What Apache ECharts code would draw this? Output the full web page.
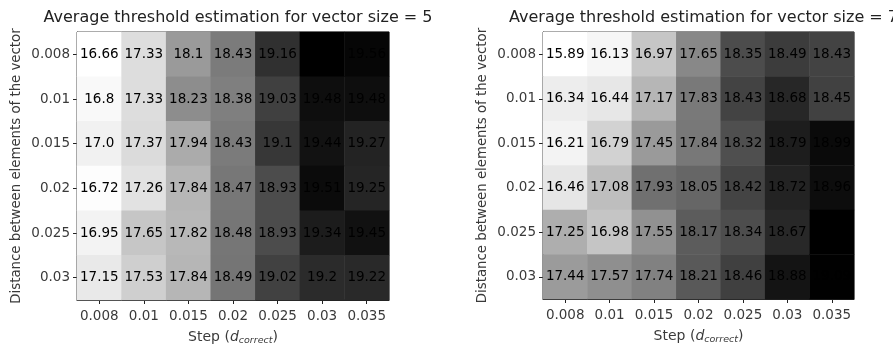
<!DOCTYPE html>
<html>
<head>
<meta charset="utf-8">
<script src="https://cdn.jsdelivr.net/npm/echarts@6/dist/echarts.min.js"></script>
<style>
html,body{margin:0;padding:0;background:#fff;}
#chart{width:893px;height:347px;}
</style>
</head>
<body>
<div id="chart"></div>
<script>
const steps = ['0.008', '0.01', '0.015', '0.02', '0.025', '0.03', '0.035'];
const distances = ['0.008', '0.01', '0.015', '0.02', '0.025', '0.03'];

// rows = distances, columns = steps
const size5 = [
  [16.66, 17.33, 18.1, 18.43, 19.16, 19.62, 19.56],
  [16.8, 17.33, 18.23, 18.38, 19.03, 19.48, 19.48],
  [17.0, 17.37, 17.94, 18.43, 19.1, 19.44, 19.27],
  [16.72, 17.26, 17.84, 18.47, 18.93, 19.51, 19.25],
  [16.95, 17.65, 17.82, 18.48, 18.93, 19.34, 19.45],
  [17.15, 17.53, 17.84, 18.49, 19.02, 19.2, 19.22]
];
const size7 = [
  [15.89, 16.13, 16.97, 17.65, 18.35, 18.49, 18.43],
  [16.34, 16.44, 17.17, 17.83, 18.43, 18.68, 18.45],
  [16.21, 16.79, 17.45, 17.84, 18.32, 18.79, 18.99],
  [16.46, 17.08, 17.93, 18.05, 18.42, 18.72, 18.96],
  [17.25, 16.98, 17.55, 18.17, 18.34, 18.67, 19.1],
  [17.44, 17.57, 17.74, 18.21, 18.46, 18.88, 19.09]
];

const titles = ['Average threshold estimation for vector size = 5',
                'Average threshold estimation for vector size = 7'];
const yName = 'Distance between elements of the vector';

const greys = ['#ffffff','#f0f0f0','#d9d9d9','#bdbdbd','#969696','#737373','#525252','#252525','#000000'];

function toCells(mat) {
  const out = [];
  mat.forEach((row, r) => row.forEach((v, c) => out.push([c, r, v])));
  return out;
}
function flatMin(m) { return Math.min(...m.flat()); }
function flatMax(m) { return Math.max(...m.flat()); }
function fmt(v) { return Number.isInteger(v) ? v.toFixed(1) : String(v); }

const FONT = 'DejaVu Sans';
const grids = [
  {left: 77, top: 32, width: 312, height: 268},
  {left: 543, top: 32, width: 311, height: 267}
];
const mats = [size5, size7];

const option = {
  animation: false,
  backgroundColor: '#ffffff',
  textStyle: {fontFamily: FONT},
  title: grids.map((g, i) => ({
    text: titles[i],
    left: g.left + g.width / 2,
    top: 5,
    textAlign: 'center',
    textStyle: {fontFamily: FONT, fontSize: 16, fontWeight: 'normal', color: '#222'}
  })),
  grid: grids.map(g => Object.assign({show: true, borderColor: '#222', borderWidth: 1, backgroundColor: 'transparent', containLabel: false, outerBoundsMode: 'none'}, g)),
  xAxis: grids.map((g, i) => ({
    type: 'category', gridIndex: i, data: steps,
    axisLine: {show: true, lineStyle: {color: '#222'}},
    axisTick: {show: true, alignWithLabel: true, length: 4, lineStyle: {color: '#222'}},
    axisLabel: {fontFamily: FONT, fontSize: 13.5, color: '#3a3a3a', margin: 9, interval: 0},
    splitLine: {show: false},
    name: '{n|Step (}{i|d}{s|correct}{n|)}',
    nameLocation: 'middle', nameGap: 29,
    nameTextStyle: {
      rich: {
        n: {fontFamily: FONT, fontSize: 14, color: '#3a3a3a'},
        i: {fontFamily: FONT, fontSize: 14, fontStyle: 'italic', color: '#3a3a3a'},
        s: {fontFamily: FONT, fontSize: 9.5, fontStyle: 'italic', color: '#3a3a3a', verticalAlign: 'bottom', padding: [7, 0, 0, 0]}
      }
    }
  })),
  yAxis: grids.map((g, i) => ({
    type: 'category', gridIndex: i, data: distances, inverse: true,
    axisLine: {show: true, lineStyle: {color: '#222'}},
    axisTick: {show: true, alignWithLabel: true, length: 4, lineStyle: {color: '#222'}},
    axisLabel: {fontFamily: FONT, fontSize: 13.5, color: '#3a3a3a', margin: 7, interval: 0},
    splitLine: {show: false},
    name: yName, nameLocation: 'middle', nameGap: 54, nameRotate: 90,
    nameTextStyle: {fontFamily: FONT, fontSize: 13.3, color: '#3a3a3a'}
  })),
  visualMap: mats.map((m, i) => ({
    type: 'continuous', show: false, seriesIndex: i, dimension: 2,
    min: flatMin(m), max: flatMax(m),
    inRange: {color: greys}
  })),
  series: mats.map((m, i) => ({
    type: 'heatmap', xAxisIndex: i, yAxisIndex: i,
    data: toCells(m),
    label: {
      show: true, fontFamily: FONT, fontSize: 13.5, color: '#000',
      formatter: p => fmt(p.value[2])
    },
    itemStyle: {borderWidth: 0},
    emphasis: {disabled: true}
  }))
};

const chart = echarts.init(document.getElementById('chart'), null, {renderer: 'canvas'});
chart.setOption(option);
</script>
</body>
</html>
